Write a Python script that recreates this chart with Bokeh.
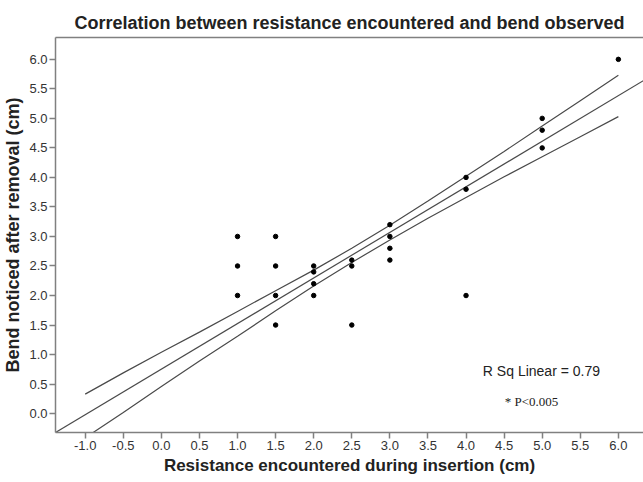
from bokeh.plotting import figure
from bokeh.models import FixedTicker, PrintfTickFormatter, LinearAxis, Label, Range1d
from bokeh.embed import file_html
from bokeh.resources import INLINE

# Observed data (resistance during insertion vs bend after removal, cm)
res_x = [1.0, 1.0, 1.0,
         1.5, 1.5, 1.5, 1.5,
         2.0, 2.0, 2.0, 2.0,
         2.5, 2.5, 2.5,
         3.0, 3.0, 3.0, 3.0,
         4.0, 4.0, 4.0,
         5.0, 5.0, 5.0,
         6.0]
bend_y = [3.0, 2.5, 2.0,
          3.0, 2.5, 2.0, 1.5,
          2.5, 2.4, 2.2, 2.0,
          2.6, 2.5, 1.5,
          3.2, 3.0, 2.8, 2.6,
          4.0, 3.8, 2.0,
          5.0, 4.8, 4.5,
          6.0]

# Fit line
fit_x = [-1.39, 6.33]
fit_y = [-0.32, 5.64]

# Confidence band lines
ci_x = [-1.0, -0.5, 0.0, 0.5, 1.0, 1.5, 2.0, 2.5, 3.0, 3.5, 4.0, 4.5, 5.0, 5.5, 6.0]
ci_upper = [0.33, 0.69, 1.04, 1.38, 1.73, 2.08, 2.43, 2.80, 3.19, 3.60, 4.02, 4.44, 4.87, 5.30, 5.73]
ci_lower = [-0.41, 0.02, 0.46, 0.89, 1.31, 1.74, 2.16, 2.56, 2.94, 3.31, 3.66, 4.01, 4.35, 4.69, 5.03]

x_ticks = [-1.0, -0.5, 0.0, 0.5, 1.0, 1.5, 2.0, 2.5, 3.0, 3.5, 4.0, 4.5, 5.0, 5.5, 6.0]
y_ticks = [0.0, 0.5, 1.0, 1.5, 2.0, 2.5, 3.0, 3.5, 4.0, 4.5, 5.0, 5.5, 6.0]

title_text = "Correlation between resistance encountered and bend observed"
x_label = "Resistance encountered during insertion (cm)"
y_label = "Bend noticed after removal (cm)"
r2_text = "R Sq Linear = 0.79"
p_text = "* P<0.005"

FONT = "Liberation Sans"
AXIS_COLOR = "#808080"

p = figure(width=643, height=482,
           x_range=Range1d(-1.39, 6.33), y_range=Range1d(-0.32, 6.37),
           output_backend="svg", toolbar_location=None,
           min_border_left=55, min_border_right=0,
           min_border_top=37, min_border_bottom=50,
           x_axis_type=None, y_axis_type=None)

p.title.text = title_text
p.title.align = "center"
p.title.text_font = FONT
p.title.text_font_size = "18px"
p.title.text_font_style = "bold"
p.title.text_color = "#222222"
p.title.standoff = 10

p.outline_line_color = None
p.xgrid.visible = False
p.ygrid.visible = False
p.background_fill_color = "white"
p.border_fill_color = "white"

def style_axis(ax):
    ax.axis_line_color = AXIS_COLOR
    ax.axis_line_width = 1.5
    ax.major_tick_line_color = AXIS_COLOR
    ax.major_tick_line_width = 1.5
    ax.major_tick_out = 6
    ax.major_tick_in = 0
    ax.minor_tick_line_color = None
    ax.major_label_text_font = FONT
    ax.major_label_text_font_size = "13px"
    ax.major_label_text_color = "#333333"
    ax.axis_label_text_font = FONT
    ax.axis_label_text_font_style = "bold"
    ax.axis_label_text_color = "#222222"
    ax.formatter = PrintfTickFormatter(format="%.1f")

xaxis = LinearAxis(ticker=FixedTicker(ticks=x_ticks), axis_label=x_label)
style_axis(xaxis)
xaxis.axis_label_text_font_size = "17px"
xaxis.major_label_standoff = 2
xaxis.axis_label_standoff = 3
p.add_layout(xaxis, "below")

yaxis = LinearAxis(ticker=FixedTicker(ticks=y_ticks), axis_label=y_label)
style_axis(yaxis)
yaxis.axis_label_text_font_size = "18px"
yaxis.major_label_standoff = 2
yaxis.axis_label_standoff = 3
p.add_layout(yaxis, "left")

top_axis = LinearAxis(ticker=FixedTicker(ticks=[]))
top_axis.axis_line_color = AXIS_COLOR
top_axis.axis_line_width = 1.5
top_axis.major_tick_line_color = None
top_axis.minor_tick_line_color = None
top_axis.major_label_text_font_size = "0px"
p.add_layout(top_axis, "above")

line_color = "#4a4a4a"
p.line(fit_x, fit_y, line_color=line_color, line_width=1.2)
p.line(ci_x, ci_upper, line_color=line_color, line_width=1.2)
p.line(ci_x, ci_lower, line_color=line_color, line_width=1.2)

p.scatter(res_x, bend_y, size=4.5, marker="circle", fill_color="black", line_color="black")

p.add_layout(Label(x=4.99, y=0.73, text=r2_text, text_font=FONT, text_font_size="14px",
                   text_color="#222222", text_align="center", text_baseline="middle"))
p.add_layout(Label(x=4.86, y=0.20, text=p_text, text_font="Liberation Serif", text_font_size="13px",
                   text_color="#222222", text_align="center", text_baseline="middle"))

open("out.html", "w").write(file_html(p, INLINE))
